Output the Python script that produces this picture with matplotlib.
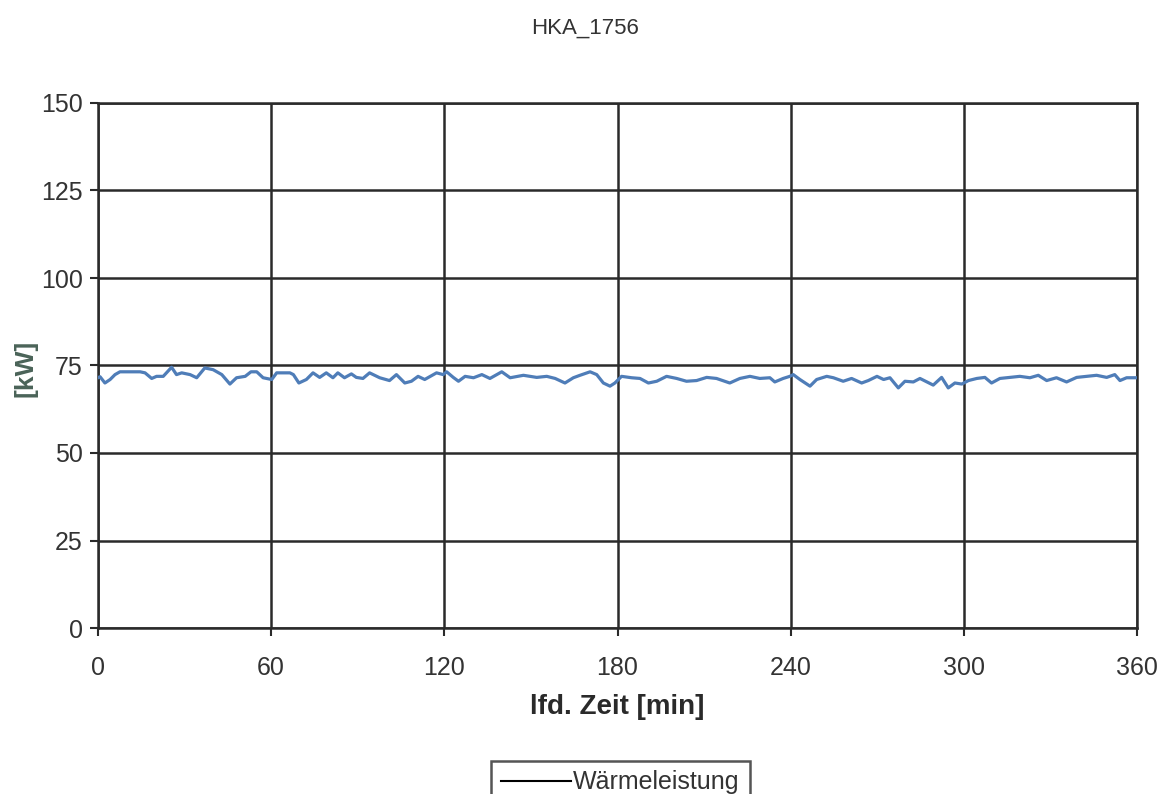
import matplotlib
matplotlib.use("Agg")
import matplotlib.pyplot as plt
from matplotlib.lines import Line2D

plt.rcParams['font.family'] = ['Liberation Sans', 'DejaVu Sans']

title = "HKA_1756"
x_label = "lfd. Zeit [min]"
y_label = "[kW]"
legend_label = "Wärmeleistung"
x_ticks = [0, 60, 120, 180, 240, 300, 360]
y_ticks = [0, 25, 50, 75, 100, 125, 150]

time_min = [0.0, 0.7, 2.4, 4.2, 5.9, 7.6, 11.0, 14.6, 16.3, 18.6, 20.3, 22.6, 25.5, 27.2,
            29.0, 31.9, 34.2, 37.0, 39.9, 42.9, 45.7, 48.0, 51.0, 53.0, 55.0, 57.2, 60.2,
            61.9, 66.5, 67.7, 69.6, 72.2, 74.5, 76.8, 79.1, 81.4, 83.1, 85.4, 87.8, 89.5,
            91.8, 94.1, 97.6, 101.0, 103.4, 106.3, 108.6, 110.9, 113.2, 117.3, 119.6,
            120.8, 123.1, 124.9, 127.2, 130.1, 133.0, 135.8, 139.9, 142.8, 147.4, 152.0,
            155.5, 158.4, 161.8, 164.7, 167.0, 170.5, 172.8, 175.1, 177.4, 179.1, 181.4,
            184.9, 187.8, 190.7, 193.6, 197.0, 200.5, 203.9, 207.4, 210.9, 214.3, 218.9,
            222.4, 225.9, 229.3, 232.8, 234.5, 237.4, 239.7, 240.9, 243.2, 246.7, 249.0,
            252.5, 254.8, 258.2, 261.1, 264.6, 266.9, 269.9, 272.2, 274.4, 277.3, 279.6,
            282.5, 284.8, 289.4, 292.3, 294.6, 296.9, 299.3, 301.6, 304.5, 307.3, 309.6,
            312.5, 316.0, 319.4, 322.9, 325.8, 328.7, 332.1, 335.6, 339.1, 342.5, 346.0,
            349.5, 352.3, 354.1, 356.4, 359.3, 360.0]
power_kw = [71.5, 71.8, 70.0, 71.0, 72.4, 73.2, 73.2, 73.2, 72.9, 71.3, 71.9, 71.9, 74.5, 72.4,
            72.9, 72.4, 71.5, 74.3, 73.8, 72.4, 69.7, 71.5, 71.9, 73.2, 73.2, 71.5, 71.0,
            72.9, 72.9, 72.4, 70.0, 71.0, 72.9, 71.6, 72.9, 71.5, 72.9, 71.5, 72.6, 71.6,
            71.3, 72.9, 71.5, 70.7, 72.4, 70.0, 70.5, 71.9, 71.0, 72.9, 72.4,
            73.2, 71.6, 70.5, 71.9, 71.5, 72.4, 71.3, 73.2, 71.5, 72.2, 71.6,
            71.9, 71.3, 70.0, 71.5, 72.2, 73.2, 72.4, 70.0, 69.1, 70.0, 71.9,
            71.5, 71.3, 70.0, 70.5, 71.9, 71.3, 70.5, 70.7, 71.6, 71.3, 70.0,
            71.3, 71.9, 71.3, 71.5, 70.3, 71.3, 71.9, 72.4, 71.0, 69.1, 71.0,
            71.9, 71.5, 70.5, 71.3, 70.0, 70.7, 71.9, 71.0, 71.5, 68.6, 70.5,
            70.3, 71.3, 69.4, 71.6, 68.6, 70.0, 69.7, 70.7, 71.3, 71.6, 70.0,
            71.3, 71.6, 71.9, 71.5, 72.2, 70.7, 71.5, 70.3, 71.6, 71.9, 72.2,
            71.6, 72.4, 70.7, 71.5, 71.5, 71.5]

fig = plt.figure(figsize=(11.7, 7.94), dpi=100)
ax = fig.add_axes([98 / 1170, 1 - 628 / 794, (1137 - 98) / 1170, (628 - 103) / 794])

ax.plot(time_min, power_kw, color='#4f7db8', linewidth=2.3, zorder=3)

ax.set_xlim(0, 360)
ax.set_ylim(0, 150)
ax.set_xticks(x_ticks)
ax.set_yticks(y_ticks)
ax.grid(True, color='#2a2a2a', linewidth=1.8)
for s in ax.spines.values():
    s.set_color('#2a2a2a')
    s.set_linewidth(1.8)
ax.tick_params(axis='both', direction='out', length=6, width=1.5, color='#2a2a2a',
               labelsize=18, labelcolor='#333333')
ax.tick_params(axis='x', pad=14)
ax.tick_params(axis='y', pad=5)

ax.set_xlabel(x_label, fontsize=20, fontweight='bold', color='#2a2a2a', labelpad=10)
ax.set_ylabel(y_label, fontsize=19, fontweight='bold', color='#4a6358')
ax.yaxis.set_label_coords(-0.058, 0.495)

fig.text(585 / 1170, 1 - 28 / 794, title, ha='center', va='center', fontsize=16, color='#333333')

handle = Line2D([], [], color='black', linewidth=1.5)
leg = fig.legend([handle], [legend_label], loc='upper center', bbox_to_anchor=(620 / 1170, 1 - 748 / 794),
                 frameon=True, fancybox=False, edgecolor='#2a2a2a', fontsize=18,
                 handlelength=2.8, handletextpad=0.1, borderpad=0.4)
leg.get_frame().set_linewidth(1.8)
for t in leg.get_texts():
    t.set_color('#333333')

fig.savefig('out.png', dpi=100)
